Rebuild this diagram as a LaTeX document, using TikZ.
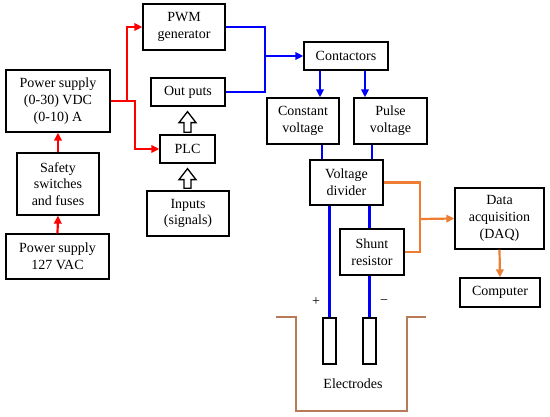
\documentclass[tikz,border=0pt]{standalone}
\usepackage{fontspec}
\setmainfont{Liberation Serif}
\usetikzlibrary{calc,arrows.meta}
\definecolor{lred}{RGB}{255,0,0}
\definecolor{lblue}{RGB}{0,0,255}
\definecolor{lorange}{RGB}{237,125,49}
\definecolor{lbrown}{RGB}{185,122,87}
\newcommand\hollowarrow[2]{%
  \draw[line width=1.3pt,fill=white,line join=miter]
    ($(#1)+(-3.5,-2)$) -- ($(#2)+(-3.5,16)$) -- ($(#2)+(-8.5,16)$) -- ($(#2)+(0,5)$)
    -- ($(#2)+(8.5,16)$) -- ($(#2)+(3.5,16)$) -- ($(#1)+(3.5,-2)$) -- cycle;}
\begin{document}
\begin{tikzpicture}[x=1pt,y=-1pt,
  box/.style={draw,line width=1.3pt,align=center,inner sep=0pt,
    font=\fontsize{14}{16.7}\selectfont},
  lbl/.style={font=\fontsize{14}{16.7}\selectfont,inner sep=0pt},
  rl/.style={draw=lred,line width=2.2pt},
  bl/.style={draw=lblue,line width=2.2pt},
  ol/.style={draw=lorange,line width=2.2pt},
  tip/.style={-{Triangle[length=8pt,width=7.5pt]}}]
\useasboundingbox (0,0) rectangle (550,417);
% nodes
\node[box,minimum width=104pt,minimum height=62pt] (ps1) at (58,101) {Power supply\\(0-30) VDC\\(0-10) A};
\node[box,minimum width=82pt,minimum height=62pt] (saf) at (58,184) {Safety\\switches\\and fuses};
\node[box,minimum width=103pt,minimum height=45pt] (ps2) at (57.5,256.5) {Power supply\\127 VAC};
\node[box,minimum width=82pt,minimum height=46pt] (pwm) at (184,27) {PWM\\generator};
\node[box,minimum width=74pt,minimum height=28pt] (out) at (188,92) {Out puts};
\node[box,minimum width=55pt,minimum height=28pt] (plc) at (187.5,149) {PLC};
\node[box,minimum width=82pt,minimum height=45pt] (inp) at (188,213.5) {Inputs\\(signals)};
\node[box,minimum width=84pt,minimum height=28pt] (cont) at (346,56) {Contactors};
\node[box,minimum width=72pt,minimum height=46pt] (cv) at (303,121) {Constant\\voltage};
\node[box,minimum width=73pt,minimum height=46pt] (pv) at (390.5,121) {Pulse\\voltage};
\node[box,minimum width=73pt,minimum height=45pt] (vd) at (346.5,182.5) {Voltage\\divider};
\node[box,minimum width=64pt,minimum height=46pt] (sh) at (372,252) {Shunt\\resistor};
\node[box,minimum width=89pt,minimum height=61pt] (daq) at (499.5,218.5) {Data\\acquisition\\(DAQ)};
\node[box,minimum width=80pt,minimum height=29pt] (comp) at (500,292.5) {Computer};
\node[draw,line width=1.3pt,minimum width=13pt,minimum height=46pt,inner sep=0pt] (e1) at (329.5,341) {};
\node[draw,line width=1.3pt,minimum width=13pt,minimum height=46pt,inner sep=0pt] (e2) at (369.5,341) {};
\node[lbl] (plus) at (316,302) {+};
\node[lbl] (minus) at (384,302) {\char"2212};
\node[lbl] (etxt) at (353,384) {Electrodes};
% container
\draw[lbrown,line width=1.6pt] (276,317) -- (296,317) -- (296,411) -- (407,411) -- (407,317) -- (426,317);
% red
\coordinate (j1) at (127,101);
\coordinate (j2) at (135,101);
\draw[rl,tip] (ps1.east) -- (j1) |- (pwm.west);
\draw[rl,tip] (j1) -- (j2) |- (plc.west);
\draw[rl,tip] (saf.north) -- (ps1.south);
\draw[rl,tip] (ps2.north) -- (saf.south);
% hollow arrows
\hollowarrow{plc.south |- inp.north}{plc.south}
\hollowarrow{plc.north}{plc.north |- out.south}
% blue
\coordinate (j3) at (265,56);
\draw[bl] (pwm.east) -| (j3) |- (out.east);
\draw[bl,tip] (j3) -- (cont.west);
\draw[bl,tip] ([xshift=-26pt]cont.south) -- ([xshift=-26pt]cont.south |- cv.north);
\draw[bl,tip] ([xshift=19pt]cont.south) -- ([xshift=19pt]cont.south |- pv.north);
\draw[bl] ([xshift=-24.5pt]vd.north) -- ([xshift=-24.5pt]vd.north |- cv.south);
\draw[bl] ([xshift=25.5pt]vd.north) -- ([xshift=25.5pt]vd.north |- pv.south);
\draw[bl] (e1.north) -- (e1.north |- vd.south);
\draw[bl] (e2.north) -- (e2.north |- sh.south);
\draw[bl] (e2.north |- sh.north) -- (e2.north |- vd.south);
% orange
\coordinate (j5) at (420,219);
\draw[ol] (vd.east) -| (j5) |- (sh.east);
\draw[ol,tip] (j5) -- (daq.west);
\draw[ol,tip] (daq.south) -- (comp.north);
\end{tikzpicture}
\end{document}
